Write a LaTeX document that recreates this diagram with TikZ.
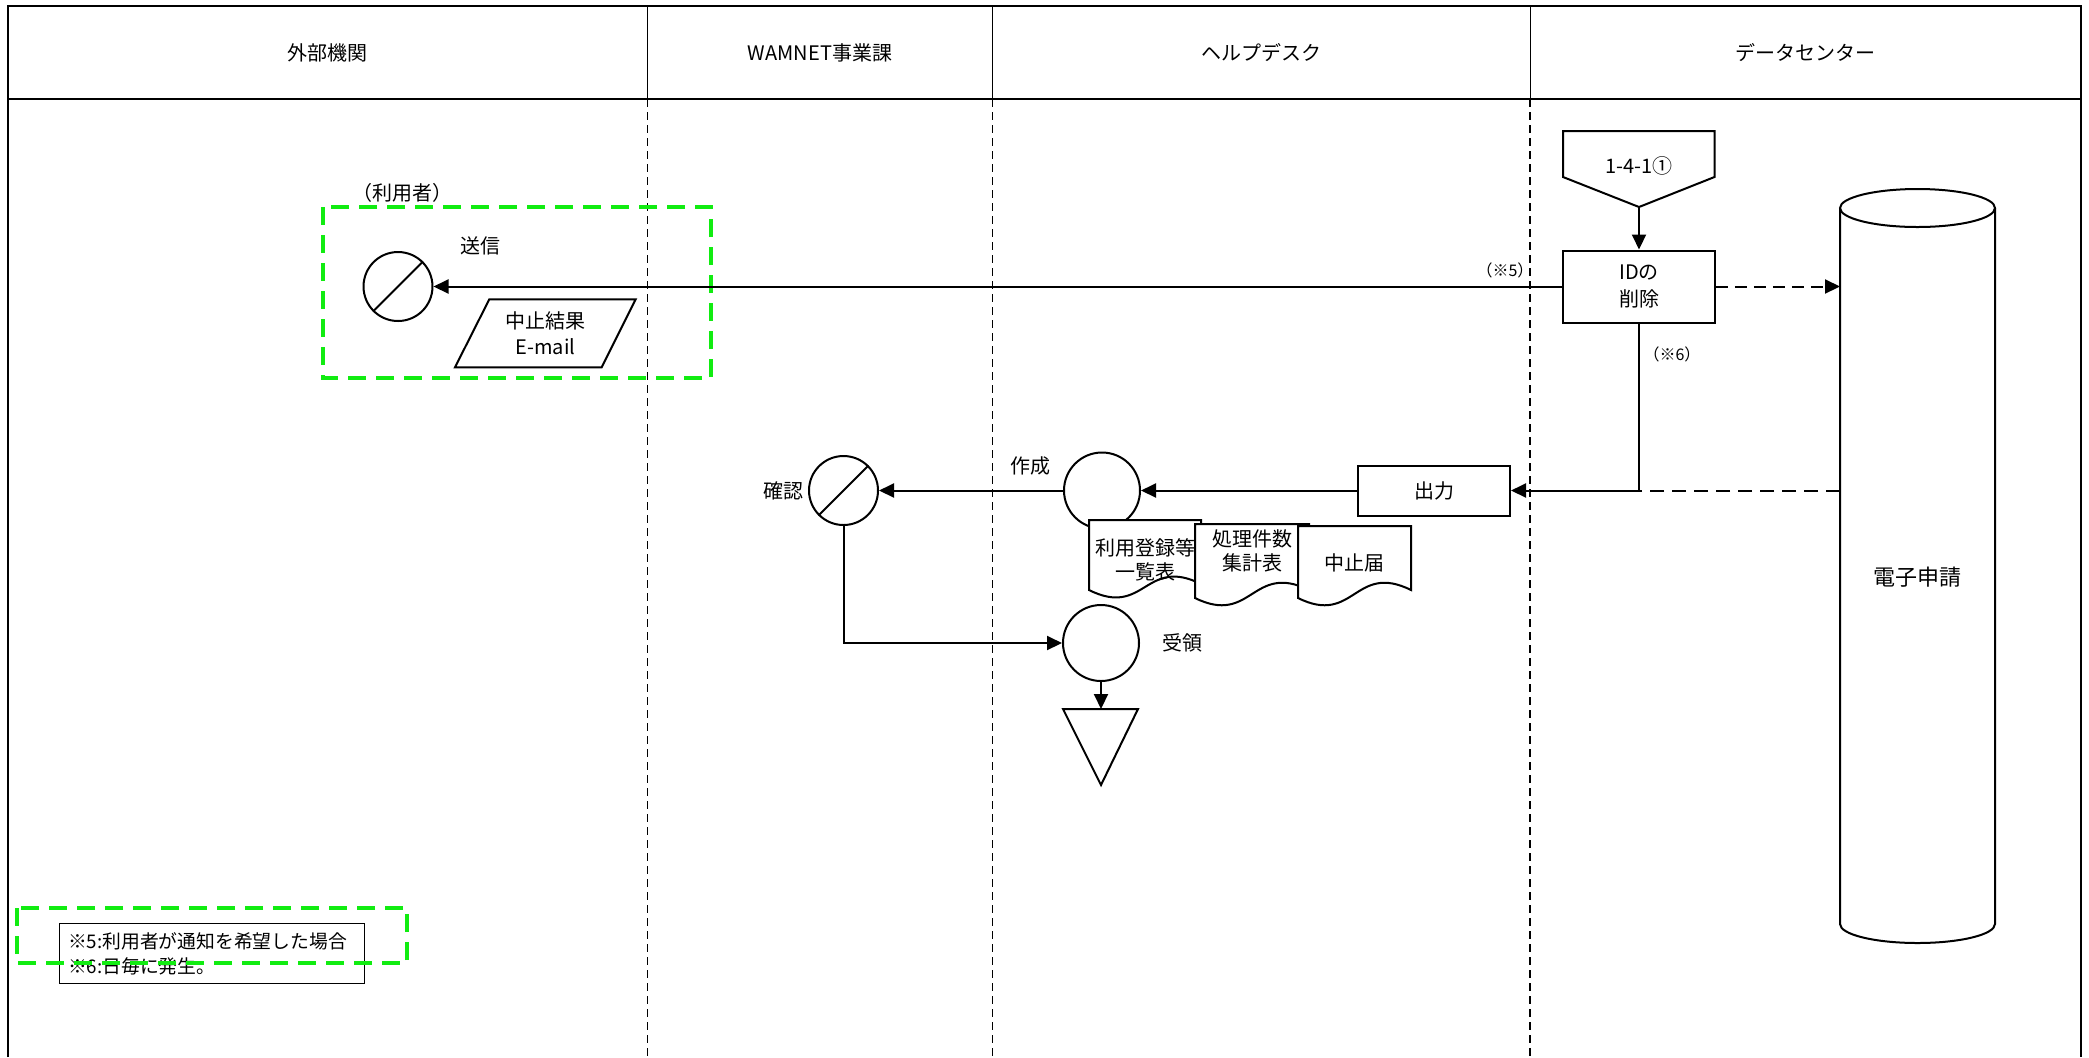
\documentclass[tikz,border=0pt]{standalone}
\usepackage{fontspec}
\setmainfont{Noto Sans CJK JP}
\usetikzlibrary{arrows.meta, positioning, calc}
\definecolor{grpgreen}{RGB}{17,236,17}

\begin{document}
\begin{tikzpicture}[x=0.5pt, y=-0.5pt, font=\fontsize{10pt}{12pt}\selectfont, align=center,
    ln/.style={line width=1pt},
    arr/.style={ln, -{Triangle[length=7.5pt, width=7pt]}},
    box/.style={draw, line width=1pt, fill=white, inner sep=0pt},
    circ/.style={draw, circle, line width=1pt, fill=white, inner sep=0pt},
    lane/.style={line width=0.6pt, dash pattern=on 4pt off 2.5pt},
    grp/.style={draw=grpgreen, line width=1.6pt, dash pattern=on 9pt off 5pt},
    small/.style={font=\fontsize{8pt}{9pt}\selectfont}]
    \useasboundingbox (0,0) rectangle (2089,1057);

    \draw[line width=1.2pt] (8,1057) -- (8,6) -- (2081,6) -- (2081,1057);
    \draw[line width=1.2pt] (8,99) -- (2081,99);
    \foreach \x in {647.5, 992.5, 1530} {
        \draw[line width=0.5pt] (\x,6) -- (\x,99);
        \draw[lane] (\x,99) -- (\x,1057);
    }
    \node (h1) at (327.8,53) {外部機関};
    \node (h2) at (820,53) {WAMNET事業課};
    \node (h3) at (1261,53) {ヘルプデスク};
    \node (h4) at (1805.5,53) {データセンター};

    \node (user) at (402,193) {（利用者）};
    \draw[grp] (323,207) rectangle (711,378);
    \node[circ, minimum size=34.5pt] (send) at (398,286.5) {};
    \draw[ln] (send.225) -- (send.45);
    \node (sendlbl) at (480,246) {送信};
    \draw[ln, fill=white] (489.3,299.3) -- (635.7,299.3) -- (601.7,367.3) -- (455,367.3) -- cycle;
    \node[font=\fontsize{10pt}{13pt}\selectfont] (mail) at (545.4,333) {中止結果\\E-mail};

    \draw[ln, fill=white] (1563,131) -- (1714.5,131) -- (1714.5,177) -- (1639,207) -- (1563,177) -- cycle;
    \node (conn) at (1639,166) {1-4-1①};
    \coordinate (conntip) at (1639,207);
    \node[box, minimum width=75.75pt, minimum height=36pt, font=\fontsize{10pt}{13.5pt}\selectfont] (idbox) at (1639,286.5) {IDの\\削除};
    \node[small] (n5) at (1505,270) {（※5）};
    \node[small] (n6) at (1672,354) {（※6）};

    \draw[ln, fill=white] (1840,208) -- (1840,924) arc[start angle=180, end angle=360, x radius=38.75pt, y radius=9.5pt] -- (1995,208);
    \draw[ln, fill=white] (1917.5,208) ellipse [x radius=38.75pt, y radius=9.5pt];
    \node[font=\fontsize{11pt}{13pt}\selectfont] (db) at (1917.5,577) {電子申請};
    \coordinate (dbw) at (1840,577);

    \node[box, minimum width=76pt, minimum height=25pt] (outbox) at (1434,490.5) {出力};
    \node[circ, minimum size=38pt] (make) at (1102,490.5) {};
    \node (makelbl) at (1030,466) {作成};
    \node[circ, minimum size=34.5pt] (check) at (843.5,490.5) {};
    \draw[ln] (check.225) -- (check.45);
    \node (checklbl) at (783,490.5) {確認};
    \node[circ, minimum size=38pt] (recv) at (1101,643) {};
    \node (recvlbl) at (1182,643) {受領};
    \draw[ln, fill=white] (1063,709) -- (1138,709) -- (1101,785) -- cycle;
    \coordinate (endtri) at (1101,709);

    \draw[ln, fill=white] (1089,520) -- (1201,520) -- (1201,584) .. controls (1145,556) and (1145,618) .. (1089,590) -- cycle;
    \node (doc1) at (1145,560) {利用登録等\\一覧表};
    \draw[ln, fill=white] (1195,524) -- (1309,524) -- (1309,590) .. controls (1252,562) and (1252,626) .. (1195,598) -- cycle;
    \node (doc2) at (1252,550.5) {処理件数\\集計表};
    \draw[ln, fill=white] (1298,526) -- (1411,526) -- (1411,590) .. controls (1354.5,562) and (1354.5,626) .. (1298,598) -- cycle;
    \node (doc3) at (1354.5,563) {中止届};

    \draw[arr] (conntip) -- (idbox.north);
    \draw[arr] (idbox.west) -- (send.east);
    \draw[arr, dash pattern=on 6pt off 3.5pt] (idbox.east) -- (idbox.east -| dbw);
    \draw[ln, dash pattern=on 7pt off 4pt] (outbox.east -| dbw) -- (outbox.east);
    \draw[arr] (idbox.south) |- (outbox.east);
    \draw[arr] (outbox.west) -- (make.east);
    \draw[arr] (make.west) -- (check.east);
    \draw[arr] (check.south) |- (recv.west);
    \draw[arr] (recv.south) -- (endtri);

    \draw[line width=0.5pt] (59,923) rectangle (364,983);
    \node[anchor=west, align=left, font=\fontsize{9.4pt}{12.5pt}\selectfont] (notes) at (61,954) {※5:利用者が通知を希望した場合\\※6:日毎に発生。};
    \draw[grp] (17,908) rectangle (407,963);
\end{tikzpicture}
\end{document}
